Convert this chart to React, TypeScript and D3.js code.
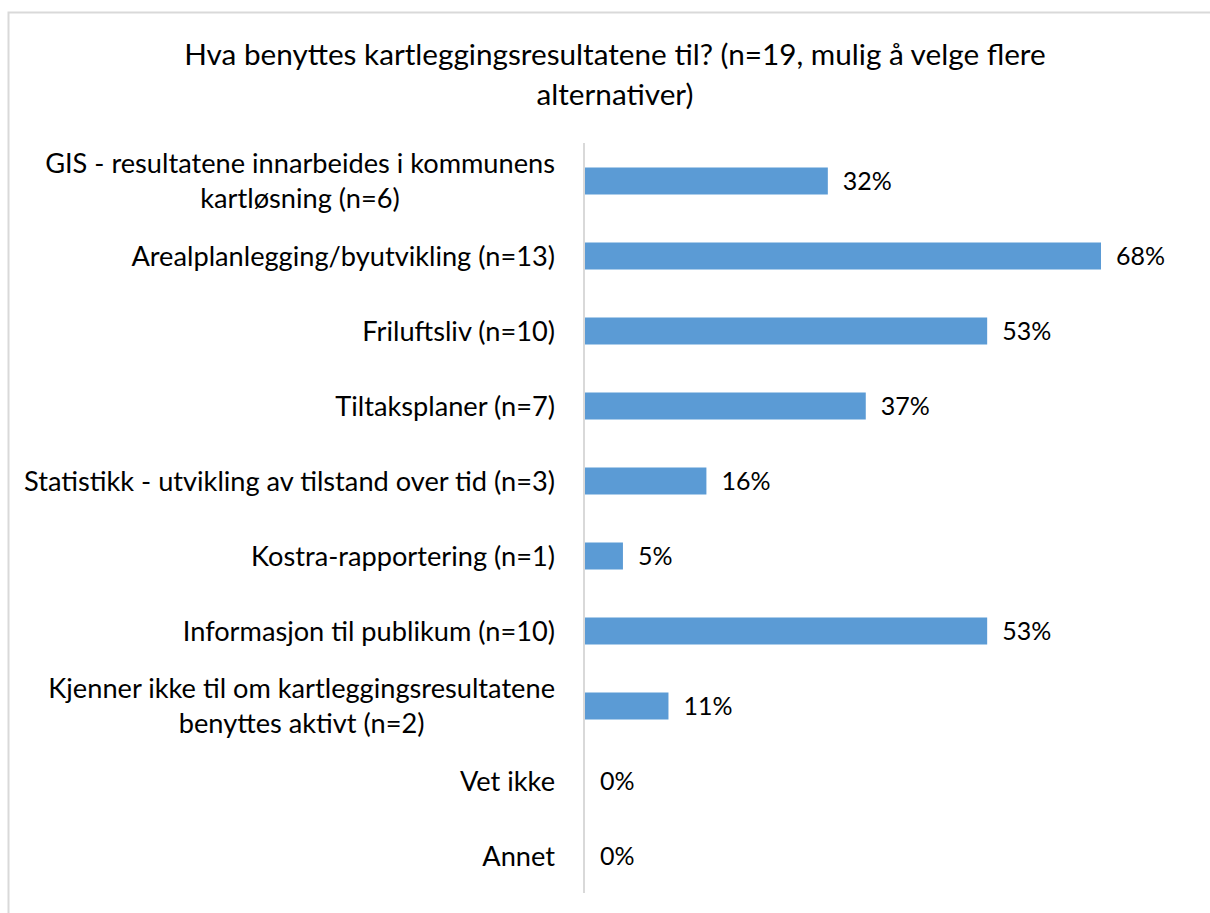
import React, { useLayoutEffect, useRef, useState } from "react";
import * as d3 from "d3";

const categories = [
  ["GIS - resultatene innarbeides i kommunens", "kartløsning (n=6)"],
  ["Arealplanlegging/byutvikling (n=13)"],
  ["Friluftsliv (n=10)"],
  ["Tiltaksplaner (n=7)"],
  ["Statistikk - utvikling av tilstand over tid (n=3)"],
  ["Kostra-rapportering (n=1)"],
  ["Informasjon til publikum (n=10)"],
  ["Kjenner ikke til om kartleggingsresultatene", "benyttes aktivt (n=2)"],
  ["Vet ikke"],
  ["Annet"],
];
const values = [32, 68, 53, 37, 16, 5, 53, 11, 0, 0];
const titleLines = [
  "Hva benyttes kartleggingsresultatene til? (n=19, mulig å velge flere",
  "alternativer)",
];

const W = 1210;
const H = 913;
const FONT = "Lato, 'Open Sans', sans-serif";
const LABEL_RIGHT = 555;

const App = () => {
  const ids = categories.map((_, i) => String(i));
  const labelsRef = useRef<SVGGElement>(null);
  const [widths, setWidths] = useState<number[]>(categories.map(() => 0));

  // measure widest line of each label so multi-line labels can be centred as a block
  useLayoutEffect(() => {
    if (!labelsRef.current) return;
    const w = categories.map((lines, i) => {
      let m = 0;
      d3.select(labelsRef.current)
        .selectAll<SVGTextElement, unknown>(`text.lab-${i}`)
        .each(function () {
          m = Math.max(m, this.getComputedTextLength());
        });
      return m;
    });
    setWidths(w);
  }, []);

  const y = d3
    .scaleBand()
    .domain(ids)
    .range([143.5, 893.5])
    .paddingInner(0.64)
    .paddingOuter(0.32);

  const x = d3.scaleLinear().domain([0, 68]).range([585, 1101]);

  return (
    <svg
      width={W}
      height={H}
      style={{ position: "absolute", left: 0, top: 0, background: "#fff" }}
      fontFamily={FONT}
    >
      <rect x={8.5} y={12.5} width={W + 10} height={H + 10} fill="#fff" stroke="#d9d9d9" strokeWidth={2} />

      {titleLines.map((t, i) => (
        <text key={i} x={615} y={65 + i * 40} textAnchor="middle" fontSize={29.7} fill="#000">
          {t}
        </text>
      ))}

      {values.map((v, i) => {
        const yy = y(ids[i]) as number;
        const bw = y.bandwidth();
        return (
          <g key={i}>
            <rect x={x(0)} y={yy} width={x(v) - x(0)} height={bw} fill="#5b9bd5" />
            <text x={x(v) + 15} y={yy + bw / 2 + 9} fontSize={25} fill="#000">
              {d3.format("d")(v) + "%"}
            </text>
          </g>
        );
      })}

      <g ref={labelsRef}>
        {categories.map((lines, i) => {
          const cy = (y(ids[i]) as number) + y.bandwidth() / 2;
          const lh = 35;
          const top = cy - ((lines.length - 1) * lh) / 2;
          const multi = lines.length > 1;
          const cx = LABEL_RIGHT - widths[i] / 2;
          return lines.map((l, j) => (
            <text
              key={`${i}-${j}`}
              className={`lab-${i}`}
              x={multi && widths[i] ? cx : LABEL_RIGHT}
              y={top + j * lh + 9.5}
              textAnchor={multi && widths[i] ? "middle" : "end"}
              fontSize={27.2}
              fill="#000"
            >
              {l}
            </text>
          ));
        })}
      </g>

      <line x1={584} x2={584} y1={143} y2={893} stroke="#d9d9d9" strokeWidth={2} />
    </svg>
  );
};

export default App;
